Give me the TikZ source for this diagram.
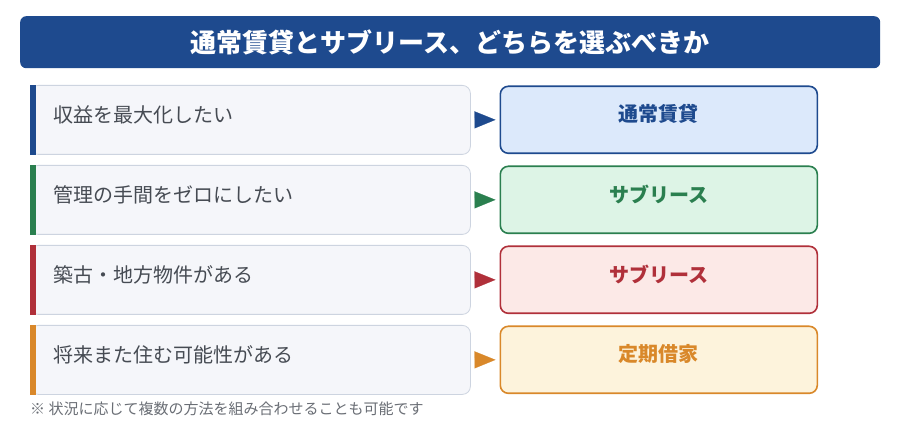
\documentclass[tikz,border=0pt]{standalone}
\usepackage{fontspec}
\setmainfont{Noto Sans CJK JP}
\usetikzlibrary{arrows.meta,positioning}
\definecolor{ttl}{HTML}{1E4A8E}
\definecolor{cblue}{HTML}{1E4A8E}\definecolor{fblue}{HTML}{DCE9FB}
\definecolor{cgreen}{HTML}{2A7F4F}\definecolor{fgreen}{HTML}{DDF4E6}
\definecolor{cred}{HTML}{B0303A}\definecolor{fred}{HTML}{FCE9E7}
\definecolor{corange}{HTML}{D9882A}\definecolor{forange}{HTML}{FDF3DC}
\definecolor{lfill}{HTML}{F5F6FA}\definecolor{lborder}{HTML}{CDD4E0}
\definecolor{ltext}{HTML}{464B53}\definecolor{note}{HTML}{6A6E75}
\tikzset{
  leftbox/.style={draw=lborder, fill=lfill, line width=0.8pt, rounded corners=8pt,
    minimum width=440pt, minimum height=69pt, anchor=north west, inner sep=0pt},
  lefttext/.style={anchor=west, text=ltext, font=\fontsize{20}{23}\selectfont, inner sep=0pt},
  rightbox/.style={line width=1.6pt, rounded corners=8pt,
    minimum width=317pt, minimum height=67pt, anchor=north west, inner sep=0pt},
  righttext/.style={font=\fontsize{20}{23}\selectfont\bfseries, inner sep=0pt},
  pointer/.style={-{Triangle[length=21pt,width=17pt]}, line width=0.2pt, shorten <=4pt, shorten >=4pt},
}
\begin{document}
\begin{tikzpicture}[x=1pt,y=-1pt]
\useasboundingbox (0,0) rectangle (900,430);
\fill[white] (0,0) rectangle (900,430);
% title
\node[fill=ttl, rounded corners=6pt, minimum width=860pt, minimum height=52pt, anchor=north west, inner sep=0pt,
  text=white, font=\fontsize{26}{29}\selectfont\bfseries] (title) at (20,16) {通常賃貸とサブリース、どちらを選ぶべきか};
% rows
\foreach \i/\y/\c/\f/\lt/\rt in {
  1/85/cblue/fblue/収益を最大化したい/通常賃貸,
  2/165/cgreen/fgreen/管理の手間をゼロにしたい/サブリース,
  3/245/cred/fred/築古・地方物件がある/サブリース,
  4/325/corange/forange/将来また住む可能性がある/定期借家}{
  \node[leftbox] (l\i) at (30,\y) {};
  \fill[\c] (l\i.north west) rectangle ([xshift=6pt]l\i.south west);
  \node[lefttext] (lt\i) at ([xshift=23pt,yshift=-30pt]l\i.north west) {\lt};
  \node[rightbox, draw=\c, fill=\f] (r\i) at (499.5,\y+0.5) {};
  \node[righttext, text=\c] (rt\i) at ([yshift=-28.5pt]r\i.north) {\rt};
  \draw[pointer, draw=\c, fill=\c] (l\i.east) -- (r\i.west);
}
\node[anchor=west, inner sep=0pt, text=note, font=\fontsize{15}{18}\selectfont] (fn) at (30,409)
  {※ 状況に応じて複数の方法を組み合わせることも可能です};
\end{tikzpicture}
\end{document}
